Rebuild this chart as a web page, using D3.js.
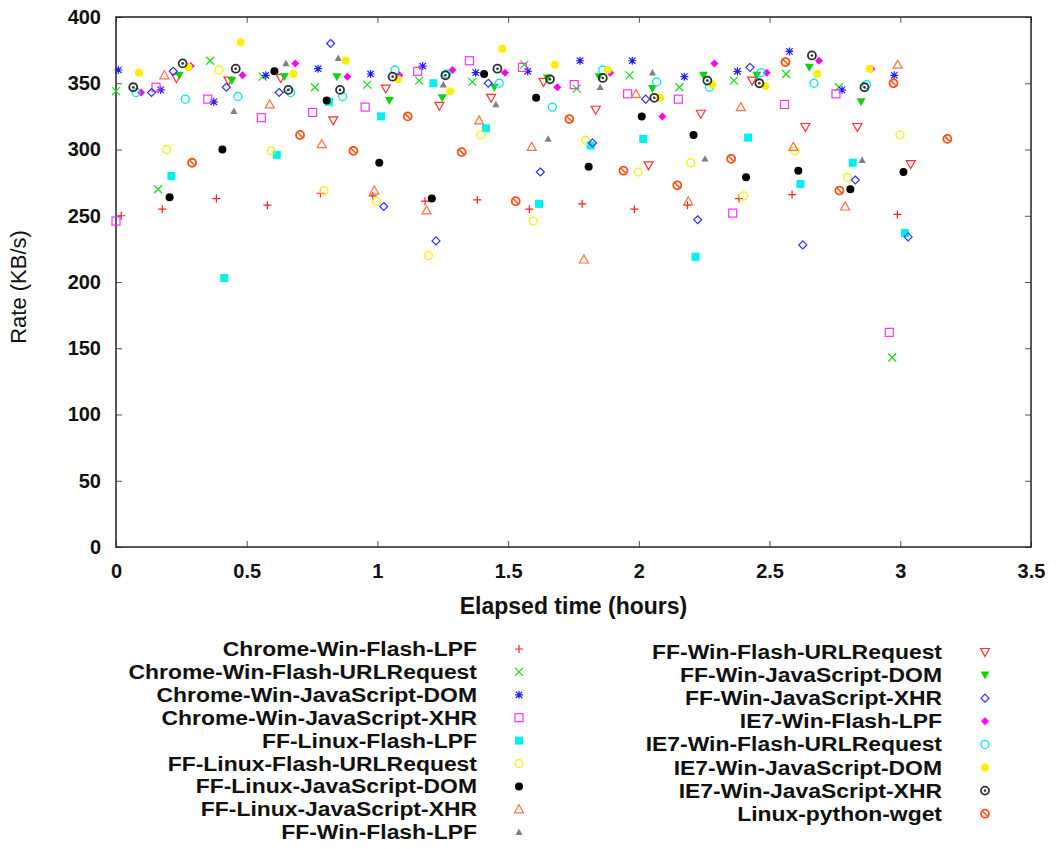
<!DOCTYPE html>
<html>
<head>
<meta charset="utf-8">
<script src="https://cdn.jsdelivr.net/npm/d3@7"></script>
<style>
  html, body { margin: 0; padding: 0; background: #fff; }
  svg { display: block; font-family: "Liberation Sans", Arial, Helvetica, sans-serif; }
</style>
</head>
<body>
<svg id="chart" width="1059" height="849"></svg>
<script>
// Transfer rate samples, [elapsed hours, KB/s], one array per client configuration
const chromeWinFlashLPF = [[0.02,250],[0.177,255],[0.384,263],[0.579,258],[0.782,267],[0.982,265],[1.182,261],[1.382,262],[1.581,255],[1.783,259],[1.983,255],[2.186,258],[2.383,263],[2.586,266],[2.989,251]];
const chromeWinFlashURLRequest = [[0.0,344],[0.161,270],[0.36,367],[0.561,355],[0.761,347],[0.961,349],[1.16,352],[1.363,351],[1.562,364],[1.762,346],[1.964,356],[2.155,347],[2.364,352],[2.563,357],[2.765,347],[2.969,143]];
const chromeWinJavaScriptDOM = [[0.009,360],[0.171,345],[0.374,336],[0.573,356],[0.773,361],[0.974,357],[1.173,363],[1.376,358],[1.575,359],[1.775,367],[1.975,367],[2.174,355],[2.377,359],[2.576,374],[2.777,345],[2.977,356]];
const chromeWinJavaScriptXHR = [[0.0,246],[0.153,347],[0.351,338],[0.556,324],[0.752,328],[0.953,332],[1.154,359],[1.352,367],[1.555,362],[1.753,349],[1.957,342],[2.151,338],[2.359,252],[2.557,334],[2.754,342],[2.958,162]];
const ffLinuxFlashLPF = [[0.212,280],[0.414,203],[0.615,296],[0.815,336],[1.014,325],[1.214,350],[1.415,316],[1.618,259],[1.816,303],[2.017,308],[2.217,219],[2.418,309],[2.618,274],[2.818,290],[3.018,237]];
const ffLinuxFlashURLRequest = [[0.194,300],[0.394,360],[0.594,299],[0.796,269],[0.996,261],[1.195,220],[1.396,311],[1.596,246],[1.797,307],[1.998,283],[2.198,290],[2.4,265],[2.597,299],[2.799,279],[2.999,311]];
const ffLinuxJavaScriptDOM = [[0.205,264],[0.407,300],[0.606,359],[0.806,337],[1.007,290],[1.208,263],[1.408,357],[1.607,339],[1.808,287],[2.011,325],[2.209,311],[2.41,279],[2.61,284],[2.809,270],[3.012,283]];
const ffLinuxJavaScriptXHR = [[0.185,356],[0.588,334],[0.787,304],[0.988,269],[1.188,254],[1.389,322],[1.59,302],[1.79,217],[1.989,342],[2.189,261],[2.39,332],[2.591,302],[2.789,257],[2.99,364]];
const ffWinFlashLPF = [[0.451,329],[0.65,365],[0.85,369],[1.252,349],[1.453,334],[1.653,308],[1.852,347],[2.052,358],[2.253,293],[2.854,292]];
const ffWinFlashURLRequest = [[0.231,354],[0.43,352],[0.63,354],[0.831,322],[1.032,346],[1.237,333],[1.435,339],[1.635,351],[1.835,330],[2.037,288],[2.237,327],[2.433,352],[2.637,317],[2.836,317],[3.04,289]];
const ffWinJavaScriptDOM = [[0.242,356],[0.443,352],[0.644,355],[0.845,355],[1.046,337],[1.248,339],[1.447,347],[1.65,354],[1.848,355],[2.052,346],[2.247,356],[2.451,356],[2.652,362],[2.85,336]];
const ffWinJavaScriptXHR = [[0.136,343],[0.219,359],[0.422,347],[0.624,343],[0.821,380],[1.024,257],[1.224,231],[1.424,350],[1.623,283],[1.823,305],[2.026,338],[2.225,247],[2.425,362],[2.627,228],[2.828,277],[3.03,234]];
const ie7WinFlashLPF = [[0.096,343],[0.286,363],[0.484,356],[0.686,365],[0.885,355],[1.084,356],[1.287,360],[1.488,358],[1.688,347],[1.89,358],[2.09,325],[2.289,365],[2.489,358],[2.689,367],[2.89,361]];
const ie7WinFlashURLRequest = [[0.077,343],[0.265,338],[0.466,340],[0.668,343],[0.867,340],[1.067,360],[1.265,357],[1.466,350],[1.669,332],[1.862,360],[2.068,351],[2.27,347],[2.467,358],[2.67,350],[2.871,349]];
const ie7WinJavaScriptDOM = [[0.088,358],[0.277,362],[0.477,381],[0.678,357],[0.879,367],[1.078,353],[1.278,344],[1.478,376],[1.679,364],[1.881,360],[2.081,339],[2.281,349],[2.483,348],[2.682,357],[2.882,361]];
const ie7WinJavaScriptXHR = [[0.066,347],[0.255,365],[0.458,361],[0.659,345],[0.857,345],[1.058,355],[1.26,356],[1.459,361],[1.66,353],[1.862,354],[2.059,339],[2.262,352],[2.461,350],[2.662,371],[2.863,347]];
const linuxPythonWget = [[0.291,290],[0.704,311],[0.908,299],[1.116,325],[1.322,298],[1.529,261],[1.734,323],[1.941,284],[2.147,273],[2.353,293],[2.561,366],[2.767,269],[2.974,350],[3.18,308]];

const seriesNames = [
  "Chrome-Win-Flash-LPF", "Chrome-Win-Flash-URLRequest", "Chrome-Win-JavaScript-DOM",
  "Chrome-Win-JavaScript-XHR", "FF-Linux-Flash-LPF", "FF-Linux-Flash-URLRequest",
  "FF-Linux-JavaScript-DOM", "FF-Linux-JavaScript-XHR", "FF-Win-Flash-LPF",
  "FF-Win-Flash-URLRequest", "FF-Win-JavaScript-DOM", "FF-Win-JavaScript-XHR",
  "IE7-Win-Flash-LPF", "IE7-Win-Flash-URLRequest", "IE7-Win-JavaScript-DOM",
  "IE7-Win-JavaScript-XHR", "Linux-python-wget"
];
const seriesValues = [
  chromeWinFlashLPF, chromeWinFlashURLRequest, chromeWinJavaScriptDOM, chromeWinJavaScriptXHR,
  ffLinuxFlashLPF, ffLinuxFlashURLRequest, ffLinuxJavaScriptDOM, ffLinuxJavaScriptXHR,
  ffWinFlashLPF, ffWinFlashURLRequest, ffWinJavaScriptDOM, ffWinJavaScriptXHR,
  ie7WinFlashLPF, ie7WinFlashURLRequest, ie7WinJavaScriptDOM, ie7WinJavaScriptXHR, linuxPythonWget
];
const xTickValues = [0, 0.5, 1, 1.5, 2, 2.5, 3, 3.5];
const yTickValues = [0, 50, 100, 150, 200, 250, 300, 350, 400];
const xTitle = "Elapsed time (hours)";
const yTitle = "Rate (KB/s)";

// Point style per series: symbol kind and colour
const styles = [
  { kind: "plus",        color: "#ff2020" },
  { kind: "cross",       color: "#10e010" },
  { kind: "star",        color: "#2020ff" },
  { kind: "square",      color: "#ff30ff" },
  { kind: "squareFill",  color: "#00f0f0" },
  { kind: "circle",      color: "#ffee00" },
  { kind: "circleFill",  color: "#000000" },
  { kind: "triUp",       color: "#ff7040" },
  { kind: "triUpFill",   color: "#808080" },
  { kind: "triDown",     color: "#ff3030" },
  { kind: "triDownFill", color: "#10d010" },
  { kind: "diamond",     color: "#3030ff" },
  { kind: "diamondFill", color: "#ff00ff" },
  { kind: "circle",      color: "#00e8f0" },
  { kind: "circleFill",  color: "#ffee00" },
  { kind: "ringDot",     color: "#303030" },
  { kind: "ringSlash",   color: "#ff5010" }
];

const svg = d3.select("#chart");
const plotLeft = 116, plotRight = 1031, plotTop = 17, plotBottom = 547;

const x = d3.scaleLinear().domain([0, 3.5]).range([plotLeft, plotRight]);
const y = d3.scaleLinear().domain([0, 400]).range([plotBottom, plotTop]);

// Inward ticks on all four sides, labels on bottom and left
const axisStyle = g => {
  g.select(".domain").remove();
  g.selectAll(".tick line").attr("stroke", "#555").attr("stroke-width", 1);
  g.selectAll(".tick text").attr("fill", "#111")
    .style("font-size", "20px").style("font-weight", "bold");
};
svg.append("g").attr("transform", `translate(0,${plotBottom})`)
  .call(d3.axisBottom(x).tickValues(xTickValues).tickFormat(d3.format("~g")).tickSizeInner(-6).tickSizeOuter(0).tickPadding(17))
  .call(axisStyle);
svg.append("g").attr("transform", `translate(0,${plotTop})`)
  .call(d3.axisTop(x).tickValues(xTickValues).tickFormat("").tickSizeInner(-6).tickSizeOuter(0))
  .call(axisStyle);
svg.append("g").attr("transform", `translate(${plotLeft},0)`)
  .call(d3.axisLeft(y).tickValues(yTickValues).tickSizeInner(-6).tickSizeOuter(0).tickPadding(15))
  .call(axisStyle);
svg.append("g").attr("transform", `translate(${plotRight},0)`)
  .call(d3.axisRight(y).tickValues(yTickValues).tickFormat("").tickSizeInner(-6).tickSizeOuter(0))
  .call(axisStyle);

// Plot border
svg.append("rect")
  .attr("x", plotLeft).attr("y", plotTop)
  .attr("width", plotRight - plotLeft).attr("height", plotBottom - plotTop)
  .attr("fill", "none").attr("stroke", "#222").attr("stroke-width", 1.5);

// Axis titles
svg.append("text").attr("x", (plotLeft + plotRight) / 2).attr("y", 614)
  .attr("text-anchor", "middle").style("font-size", "23px").style("font-weight", "bold")
  .attr("fill", "#111").text(xTitle);
svg.append("text").attr("transform", `translate(26,${(plotTop + plotBottom) / 2 + 5}) rotate(-90)`)
  .attr("text-anchor", "middle").style("font-size", "22px")
  .attr("fill", "#111").text(yTitle);

// Marker drawing
function drawMarker(sel, style) {
  const c = style.color, s = 4;
  const tri = `M0,${-s - 0.5}L${s + 0.5},${s - 0.5}L${-s - 0.5},${s - 0.5}Z`;
  const triD = `M0,${s + 0.5}L${s + 0.5},${-s + 0.5}L${-s - 0.5},${-s + 0.5}Z`;
  const dia = `M0,${-s}L${s},0L0,${s}L${-s},0Z`;
  switch (style.kind) {
    case "plus":
      sel.append("path").attr("d", `M${-s},0H${s}M0,${-s}V${s}`).attr("stroke", c).attr("stroke-width", 1.2).attr("fill", "none"); break;
    case "cross":
      sel.append("path").attr("d", `M${-s},${-s}L${s},${s}M${-s},${s}L${s},${-s}`).attr("stroke", c).attr("stroke-width", 1.2).attr("fill", "none"); break;
    case "star":
      sel.append("path").attr("d", `M${-s},0H${s}M0,${-s}V${s}M${-s + 0.8},${-s + 0.8}L${s - 0.8},${s - 0.8}M${-s + 0.8},${s - 0.8}L${s - 0.8},${-s + 0.8}`).attr("stroke", c).attr("stroke-width", 1.2).attr("fill", "none"); break;
    case "square":
      sel.append("rect").attr("x", -s).attr("y", -s).attr("width", 2 * s).attr("height", 2 * s).attr("stroke", c).attr("stroke-width", 1.2).attr("fill", "none"); break;
    case "squareFill":
      sel.append("rect").attr("x", -s).attr("y", -s).attr("width", 2 * s).attr("height", 2 * s).attr("fill", c); break;
    case "circle":
      sel.append("circle").attr("r", s).attr("stroke", c).attr("stroke-width", 1.3).attr("fill", "none"); break;
    case "circleFill":
      sel.append("circle").attr("r", s).attr("fill", c); break;
    case "triUp":
      sel.append("path").attr("d", tri).attr("stroke", c).attr("stroke-width", 1.2).attr("fill", "none"); break;
    case "triUpFill":
      sel.append("path").attr("d", tri).attr("fill", c).attr("transform", "scale(0.8)"); break;
    case "triDown":
      sel.append("path").attr("d", triD).attr("stroke", c).attr("stroke-width", 1.2).attr("fill", "none"); break;
    case "triDownFill":
      sel.append("path").attr("d", triD).attr("fill", c); break;
    case "diamond":
      sel.append("path").attr("d", dia).attr("stroke", c).attr("stroke-width", 1.2).attr("fill", "none"); break;
    case "diamondFill":
      sel.append("path").attr("d", dia).attr("fill", c); break;
    case "ringDot":
      sel.append("circle").attr("r", s).attr("stroke", c).attr("stroke-width", 1.8).attr("fill", "none");
      sel.append("circle").attr("r", 1.3).attr("fill", c); break;
    case "ringSlash":
      sel.append("circle").attr("r", s).attr("stroke", c).attr("stroke-width", 1.8).attr("fill", "none");
      sel.append("path").attr("d", `M${-s + 1.5},${-s + 1.5}L${s - 1.5},${s - 1.5}`).attr("stroke", c).attr("stroke-width", 1.5); break;
  }
}

// Data points
const plot = svg.append("g");
seriesValues.forEach((pts, i) => {
  plot.append("g").attr("class", "series")
    .selectAll("g").data(pts).join("g")
    .attr("transform", d => `translate(${x(d[0])},${y(d[1])})`)
    .each(function () { drawMarker(d3.select(this), styles[i]); });
});

// Legend: two columns, labels right-aligned next to a sample marker.
// Rows are tight, so labels use a slightly smaller font widened horizontally.
const legendCols = [
  { start: 0, count: 9, textX: 477, markX: 519, y0: 649, dy: 22.9 },
  { start: 9, count: 8, textX: 942, markX: 985, y0: 652, dy: 23.1 }
];
legendCols.forEach(col => {
  d3.range(col.count).forEach(k => {
    const i = col.start + k;
    const cy = col.y0 + k * col.dy;
    svg.append("g").attr("transform", `translate(${col.textX},${cy + 7}) scale(1.175,1.08)`)
      .append("text").attr("x", 0).attr("y", 0)
      .attr("text-anchor", "end").style("font-size", "19.5px").style("font-weight", "bold")
      .attr("fill", "#111").text(seriesNames[i]);
    const m = svg.append("g").attr("transform", `translate(${col.markX},${cy})`);
    drawMarker(m, styles[i]);
  });
});
</script>
</body>
</html>
